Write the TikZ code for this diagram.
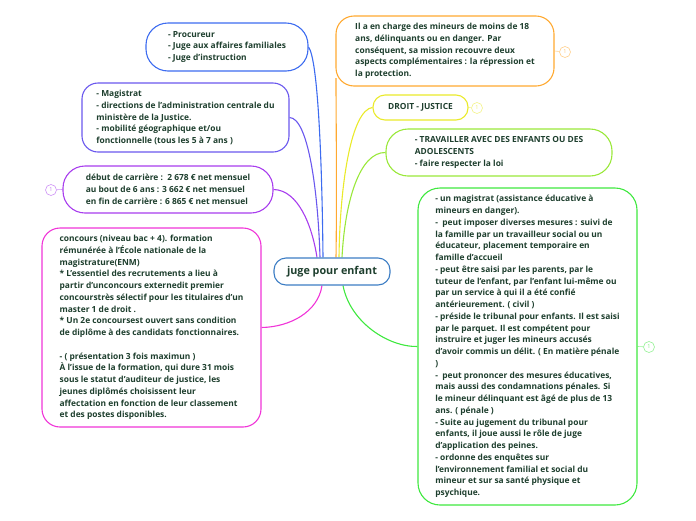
\documentclass[tikz,border=0pt]{standalone}
\usepackage{fontspec}
\setmainfont{Open Sans}
\usetikzlibrary{backgrounds}
\definecolor{ink}{HTML}{1E3F2E}
\definecolor{cproc}{HTML}{3D6CF0}
\definecolor{cmagis}{HTML}{6A58EE}
\definecolor{csalaire}{HTML}{A83DEE}
\definecolor{cconcours}{HTML}{F035D8}
\definecolor{ccentre}{HTML}{3C7DC4}
\definecolor{corange}{HTML}{FFA930}
\definecolor{cdroit}{HTML}{EAEA2A}
\definecolor{ctravail}{HTML}{9AE83A}
\definecolor{cmineurs}{HTML}{3FE83F}

\begin{document}
\begin{tikzpicture}[x=1pt,y=-1pt,
  box/.style={draw=#1,line width=1.1pt,fill=white,align=left,text=ink,
    font=\fontsize{8.4}{11.75}\selectfont\bfseries,inner sep=0pt},
  branch/.style={draw=#1,line width=1.1pt},
  note/.style={circle,draw=#1!55,line width=0.6pt,fill=white,inner sep=0pt,
    minimum size=11pt,text=#1!70,font=\fontsize{5.5}{5.5}\selectfont}]
\useasboundingbox (0,0) rectangle (696,520);

\coordinate (orangefoot) at (336,78);

% boxes
\node[box=cproc,minimum width=162,minimum height=48,rounded corners=22] (proc) at (227,47)
  {- Procureur\\- Juge aux affaires familiales\\- Juge d'instruction};
\node[box=cmagis,minimum width=207,minimum height=69,rounded corners=16] (magis) at (185.5,117.5)
  {- Magistrat\\- directions de l'administration centrale du\\ministère de la Justice.\\- mobilité géographique et/ou\\fonctionnelle (tous les 5 à 7 ans )};
\node[box=csalaire,minimum width=210,minimum height=47,rounded corners=22] (salaire) at (168,189.5)
  {début de carrière :\ \ 2 678 € net mensuel\\au bout de 6 ans : 3 662 € net mensuel\\en fin de carrière : 6 865 € net mensuel};
\node[box=cconcours,minimum width=219,minimum height=199,rounded corners=18] (concours) at (151.5,327.5)
  {concours (niveau bac + 4). formation\\rémunérée à l'École nationale de la\\magistrature(ENM)\\* L'essentiel des recrutements a lieu à\\partir d'unconcours externedit premier\\concourstrès sélectif pour les titulaires d'un\\master 1 de droit .\\* Un 2e concoursest ouvert sans condition\\de diplôme à des candidats fonctionnaires.\\[11.75pt]- ( présentation 3 fois maximun )\\À l'issue de la formation, qui dure 31 mois\\sous le statut d'auditeur de justice, les\\jeunes diplômés choisissent leur\\affectation en fonction de leur classement\\et des postes disponibles.};
\node[box=corange,minimum width=218,minimum height=70,rounded corners=18] (orange) at (445,51)
  {Il a en charge des mineurs de moins de 18\\ans, délinquants ou en danger. Par\\conséquent, sa mission recouvre deux\\aspects complémentaires : la répression et\\la protection.};
\node[box=cdroit,minimum width=95,minimum height=25,rounded corners=12] (droit) at (420.5,107.5)
  {DROIT - JUSTICE};
\node[box=ctravail,minimum width=226,minimum height=47,rounded corners=22] (travail) at (499,152.5)
  {- TRAVAILLER AVEC DES ENFANTS OU DES\\ADOLESCENTS\\- faire respecter la loi};
\node[box=cmineurs,minimum width=219,minimum height=317,rounded corners=22] (mineurs) at (527.5,346.5)
  {- un magistrat (assistance éducative à\\mineurs en danger).\\-\ \ peut imposer diverses mesures : suivi de\\la famille par un travailleur social ou un\\éducateur, placement temporaire en\\famille d'accueil\\- peut être saisi par les parents, par le\\tuteur de l'enfant, par l'enfant lui-même ou\\par un service à qui il a été confié\\antérieurement. ( civil )\\- préside le tribunal pour enfants. Il est saisi\\par le parquet. Il est compétent pour\\instruire et juger les mineurs accusés\\d'avoir commis un délit. ( En matière pénale\\)\\-\ \ peut prononcer des mesures éducatives,\\mais aussi des condamnations pénales. Si\\le mineur délinquant est âgé de plus de 13\\ans. ( pénale )\\- Suite au jugement du tribunal pour\\enfants, il joue aussi le rôle de juge\\d'application des peines.\\- ordonne des enquêtes sur\\l'environnement familial et social du\\mineur et sur sa santé physique et\\psychique.};
\node[box=ccentre,minimum width=116,minimum height=27,rounded corners=12,
  font=\fontsize{10.8}{12}\selectfont\bfseries] (centre) at (332,271.5) {juge pour enfant};

% note markers
\node[note=csalaire] (n1) at (51,190) {1};
\node[note=corange] (n2) at (565,52) {1};
\node[note=cdroit] (n3) at (477,108) {1};
\node[note=cmineurs] (n4) at (649,347) {1};

% connectors, behind the boxes
\begin{scope}[on background layer]
\draw[branch=cproc] ([xshift=-9pt]centre.north) .. controls (322,160) and (318,60) .. (proc.east);
\draw[branch=cmagis] ([xshift=-12pt]centre.north) .. controls (318,190) and (308,118) .. (magis.east);
\draw[branch=csalaire] ([xshift=-15pt]centre.north) .. controls (312,225) and (298,190) .. (salaire.east);
\draw[branch=cconcours] ([xshift=-10pt]centre.south) .. controls (318,312) and (290,327) .. (concours.east);
\draw[branch=corange] ([xshift=4pt]centre.north) .. controls (337,190) and (336,120) .. (orangefoot);
\draw[branch=cdroit] ([xshift=7pt]centre.north) .. controls (340,180) and (352,110) .. (droit.west);
\draw[branch=ctravail] ([xshift=10pt]centre.north) .. controls (345,200) and (360,152) .. (travail.west);
\draw[branch=cmineurs] ([xshift=11pt]centre.south) .. controls (350,322) and (388,347) .. (mineurs.west);
\draw[draw=csalaire!55,line width=0.6pt] (n1) -- (salaire.west);
\draw[draw=corange!55,line width=0.6pt] (orange.east) -- (n2);
\draw[draw=cdroit!55,line width=0.6pt] (droit.east) -- (n3);
\draw[draw=cmineurs!55,line width=0.6pt] (mineurs.east) -- (n4);
\end{scope}
\end{tikzpicture}
\end{document}
